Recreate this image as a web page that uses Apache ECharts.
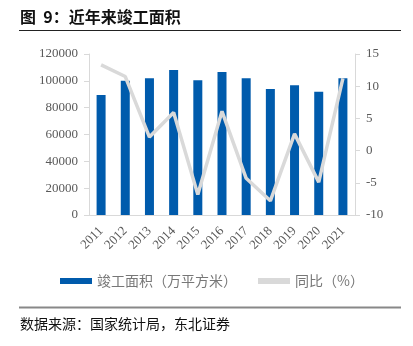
<!DOCTYPE html>
<html>
<head>
<meta charset="utf-8">
<script src="https://cdn.jsdelivr.net/npm/echarts@6/dist/echarts.min.js"></script>
<style>
html,body{margin:0;padding:0;background:#fff;}
#c{width:413px;height:346px;}
</style>
</head>
<body>
<div id="c"></div>
<script>
var years = ['2011','2012','2013','2014','2015','2016','2017','2018','2019','2020','2021'];
var area = [89500, 100000, 102000, 108100, 100400, 106600, 102000, 94000, 96800, 91800, 102000];
var yoy = [13.3, 11.5, 2.1, 5.9, -6.8, 6.1, -4.3, -7.8, 2.6, -4.9, 11.2];
var leftTicks = [0, 20000, 40000, 60000, 80000, 100000, 120000];
var rightTicks = [-10, -5, 0, 5, 10, 15];

var serif = '"Liberation Serif", "Times New Roman", serif';
var cjk = '"Noto Sans CJK SC", sans-serif';
var chart = echarts.init(document.getElementById('c'), null, {renderer: 'canvas'});
chart.setOption({
  animation: false,
  backgroundColor: '#fff',
  title: [
    {text: '图  9：近年来竣工面积', left: 15, top: 4,
     textStyle: {fontFamily: cjk, fontSize: 16, fontWeight: 'bold', color: '#111'}},
    {text: '数据来源：国家统计局，东北证券', left: 15, top: 312,
     textStyle: {fontFamily: cjk, fontSize: 14, fontWeight: 'normal', color: '#111'}}
  ],
  graphic: [
    {type: 'line', shape: {x1: 19, y1: 30.5, x2: 401, y2: 30.5}, style: {stroke: '#222', lineWidth: 1}},
    {type: 'line', shape: {x1: 19, y1: 307.5, x2: 401, y2: 307.5}, style: {stroke: '#888', lineWidth: 2}}
  ],
  grid: {left: 89, right: 58, top: 54, bottom: 131},
  legend: {
    bottom: 53, left: 55, itemGap: 21,
    textStyle: {fontFamily: cjk, fontSize: 14, color: '#777'},
    data: [
      {name: '竣工面积（万平方米）', icon: 'rect', itemStyle: {color: '#005bac'}},
      {name: '同比（%）', icon: 'rect', itemStyle: {color: '#d9d9d9'}}
    ],
    itemWidth: 32, itemHeight: 6
  },
  xAxis: {
    type: 'category', data: years,
    axisLine: {lineStyle: {color: '#d9d9d9', width: 1}},
    axisTick: {show: false},
    axisLabel: {rotate: 45, margin: 14, fontFamily: serif, fontSize: 13, color: '#595959'}
  },
  yAxis: [
    {type: 'value', min: 0, max: 120000, interval: 20000,
     axisLine: {show: true, lineStyle: {color: '#d9d9d9'}},
     axisTick: {show: true, length: 5, lineStyle: {color: '#d9d9d9'}},
     splitLine: {show: false},
     axisLabel: {margin: 11, fontFamily: serif, fontSize: 13, color: '#595959',
                 formatter: function (v) { return String(v); }}},
    {type: 'value', min: -10, max: 15, interval: 5,
     axisLine: {show: true, lineStyle: {color: '#d9d9d9'}},
     axisTick: {show: true, length: 5, lineStyle: {color: '#d9d9d9'}},
     splitLine: {show: false},
     axisLabel: {margin: 11, fontFamily: serif, fontSize: 13, color: '#595959'}}
  ],
  series: [
    {name: '竣工面积（万平方米）', type: 'bar', data: area, barWidth: 9,
     itemStyle: {color: '#005bac'}},
    {name: '同比（%）', type: 'line', yAxisIndex: 1, data: yoy,
     symbol: 'none', lineStyle: {color: '#d9d9d9', width: 3.5}, itemStyle: {color: '#d9d9d9'}}
  ]
});
</script>
</body>
</html>
